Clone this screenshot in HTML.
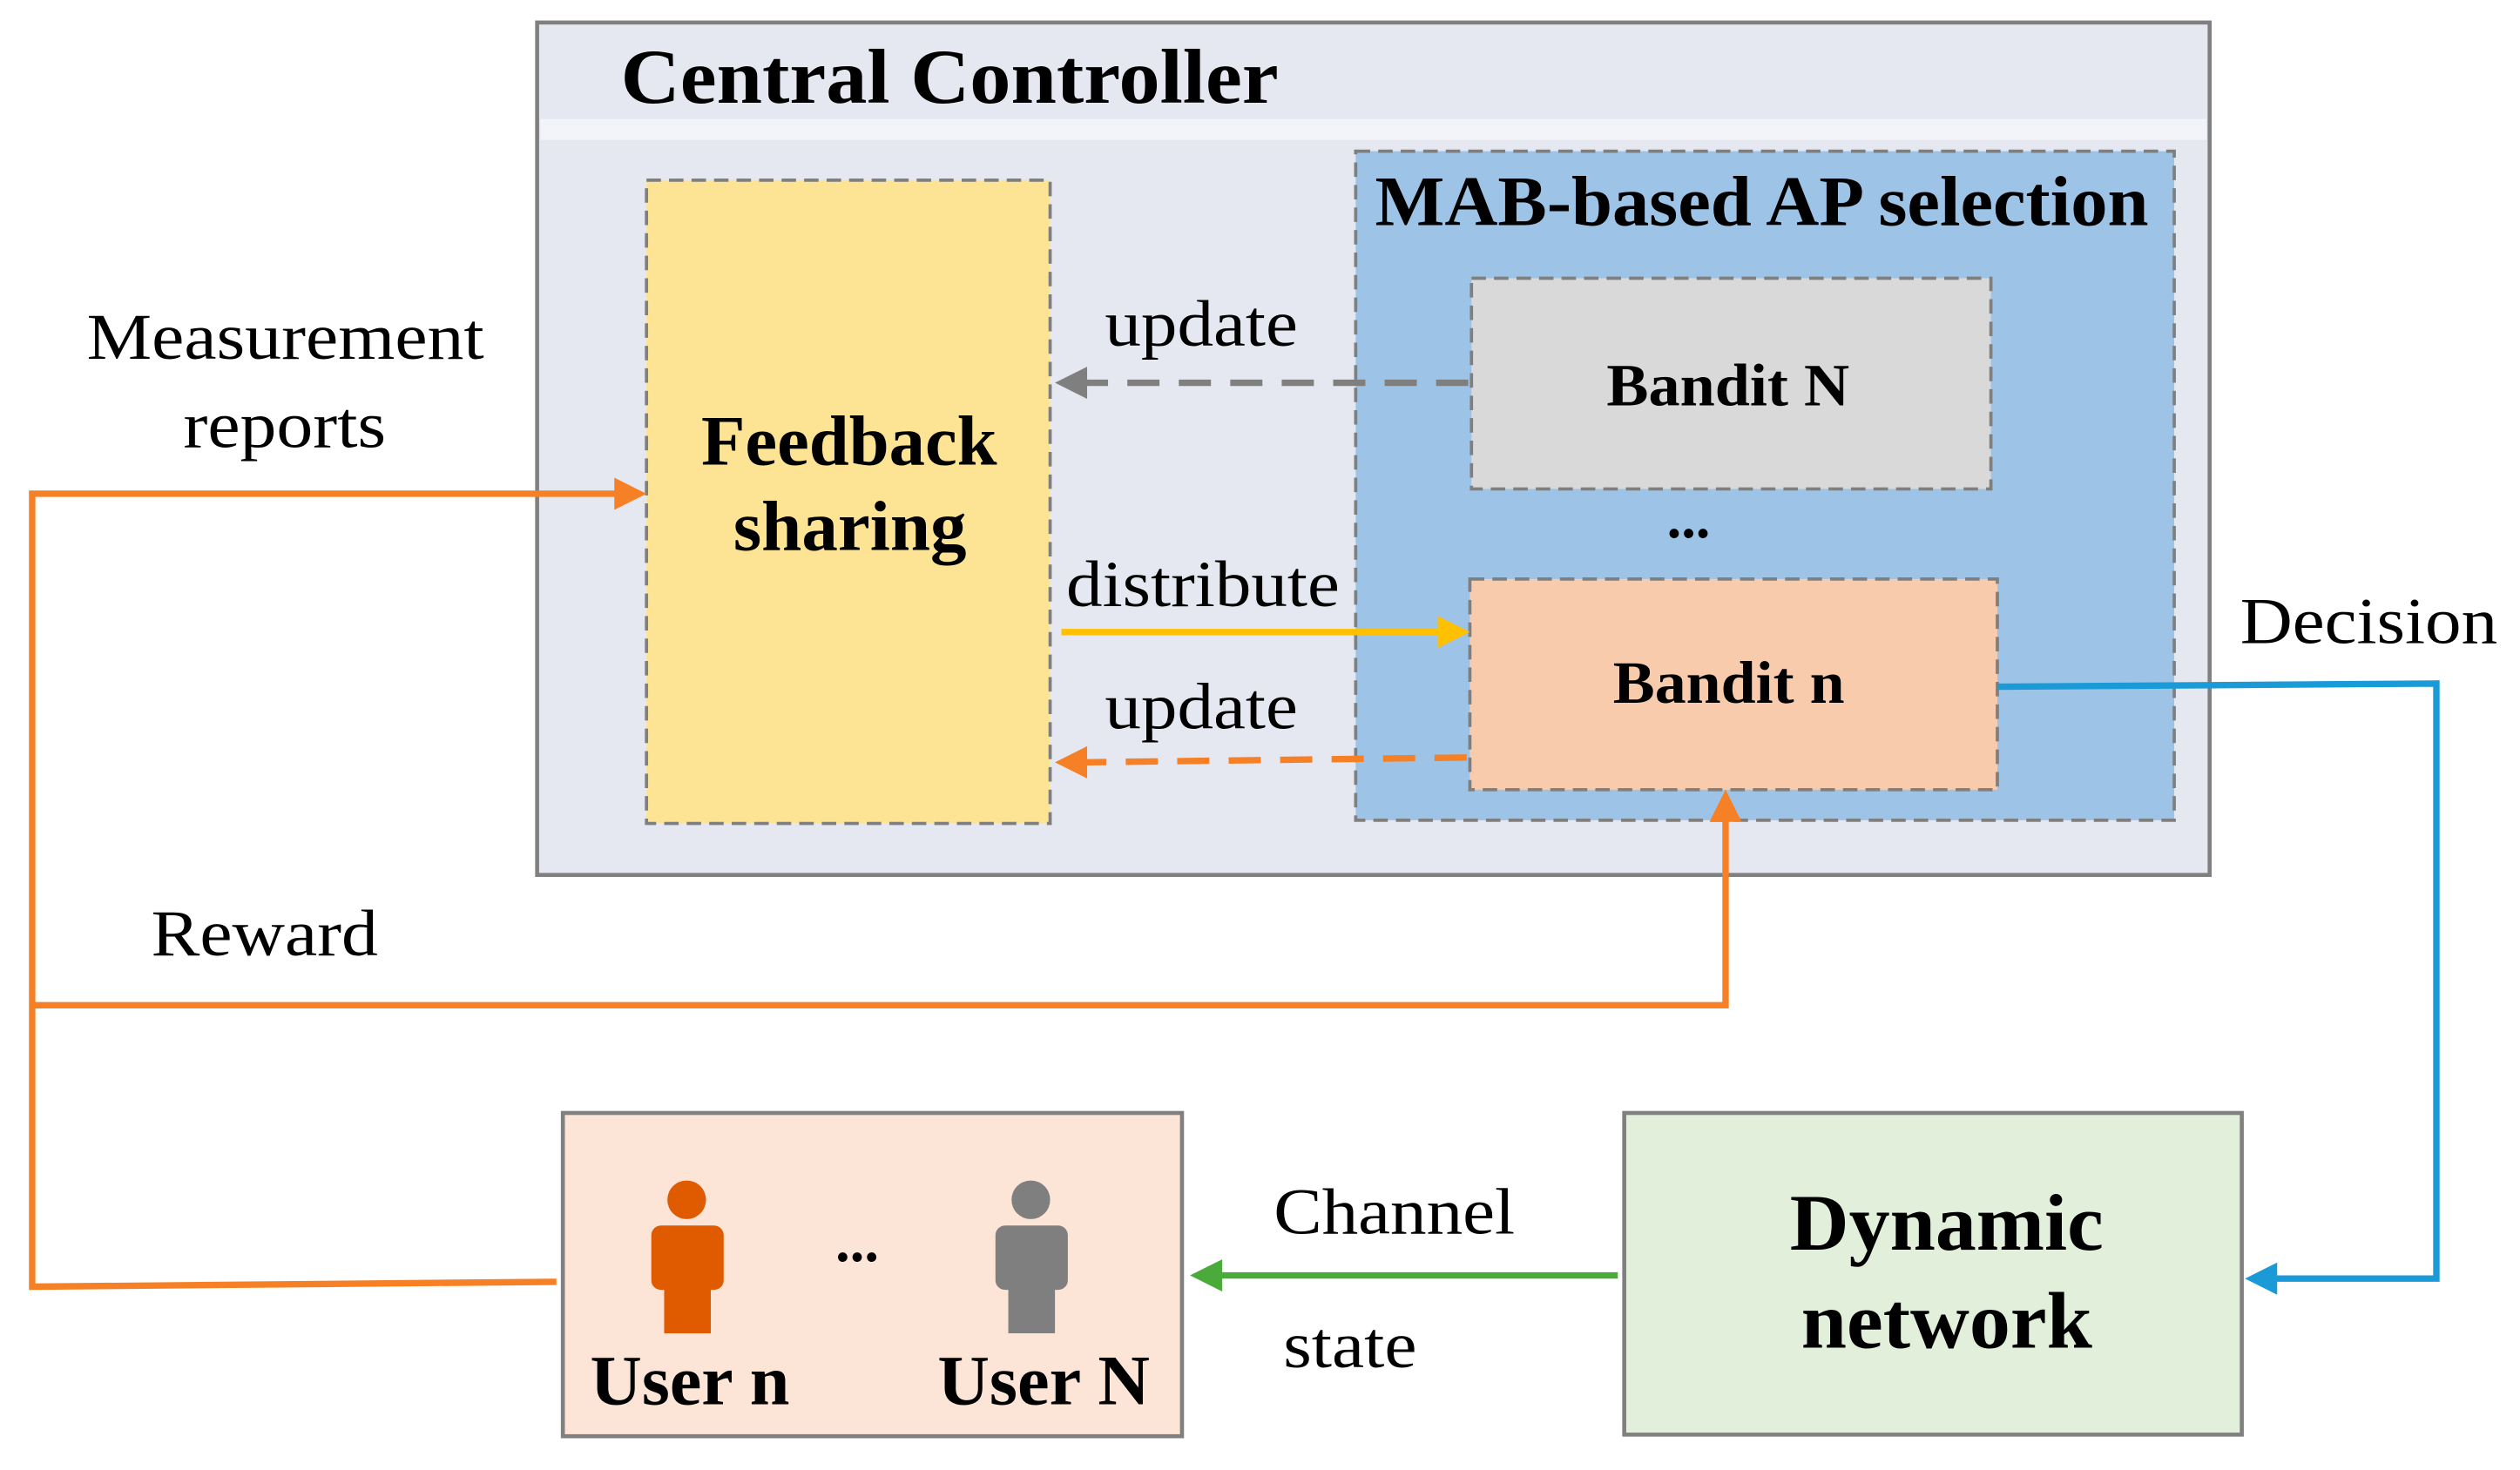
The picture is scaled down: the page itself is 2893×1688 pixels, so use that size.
<!DOCTYPE html>
<html><head><meta charset="utf-8"><style>
html,body{margin:0;padding:0;background:#fff;}
svg{display:block;}
text{font-family:"Liberation Serif",serif;fill:#000;}
.b{font-weight:bold;}
</style></head><body>
<svg width="2893" height="1688" viewBox="0 0 1567 914" preserveAspectRatio="none" xmlns="http://www.w3.org/2000/svg">
<!-- Central controller -->
<rect x="334" y="14" width="1040" height="530" fill="#e6e8f1" stroke="#808080" stroke-width="2.5"/>
<rect x="336" y="74" width="1036" height="13" fill="#f3f4f9"/>
<text x="386" y="64" font-size="48" class="b" textLength="409" lengthAdjust="spacingAndGlyphs">Central Controller</text>
<!-- Feedback -->
<rect x="402" y="112" width="251" height="400" fill="#fde394" stroke="#7f7f7f" stroke-width="2" stroke-dasharray="9,5"/>
<text x="436" y="289" font-size="44" class="b" textLength="184" lengthAdjust="spacingAndGlyphs">Feedback</text>
<text x="456" y="342" font-size="44" class="b" textLength="145" lengthAdjust="spacingAndGlyphs">sharing</text>
<!-- MAB -->
<rect x="843" y="94" width="509" height="416" fill="#9dc3e6" stroke="#7f7f7f" stroke-width="2" stroke-dasharray="9,5"/>
<text x="855" y="140" font-size="44" class="b" textLength="481" lengthAdjust="spacingAndGlyphs">MAB-based AP selection</text>
<rect x="915" y="173" width="323" height="131" fill="#d9d9d9" stroke="#7f7f7f" stroke-width="2" stroke-dasharray="9,5"/>
<text x="999" y="252" font-size="37" class="b" textLength="151" lengthAdjust="spacingAndGlyphs">Bandit N</text>
<text x="1050" y="334" font-size="36" class="b" text-anchor="middle">...</text>
<rect x="914" y="360" width="328" height="131" fill="#f8cbad" stroke="#7f7f7f" stroke-width="2" stroke-dasharray="9,5"/>
<text x="1003" y="437" font-size="37" class="b" textLength="144" lengthAdjust="spacingAndGlyphs">Bandit n</text>
<!-- update grey -->
<line x1="913" y1="238" x2="672" y2="238" stroke="#7f7f7f" stroke-width="4" stroke-dasharray="20,12"/>
<path d="M656,238 L676,228 L676,248 z" fill="#7f7f7f"/>
<text x="687" y="215" font-size="41" textLength="120" lengthAdjust="spacingAndGlyphs">update</text>
<!-- distribute -->
<line x1="660" y1="393" x2="898" y2="393" stroke="#ffc000" stroke-width="4"/>
<path d="M914,393 L894,383 L894,403 z" fill="#ffc000"/>
<text x="663" y="377" font-size="41" textLength="170" lengthAdjust="spacingAndGlyphs">distribute</text>
<!-- update orange -->
<line x1="912" y1="471" x2="672" y2="474" stroke="#f58025" stroke-width="4" stroke-dasharray="20,12"/>
<path d="M656,474 L676,464 L676,484 z" fill="#f58025"/>
<text x="687" y="453" font-size="41" textLength="120" lengthAdjust="spacingAndGlyphs">update</text>
<!-- orange feedback lines -->
<polyline points="346,797 20,800 20,307 386,307" fill="none" stroke="#f58025" stroke-width="4"/>
<path d="M402,307 L382,297 L382,317 z" fill="#f58025"/>
<polyline points="20,625 1073,625 1073,508" fill="none" stroke="#f58025" stroke-width="4"/>
<path d="M1073,491 L1063,511 L1083,511 z" fill="#f58025"/>
<text x="54" y="223" font-size="41" textLength="247" lengthAdjust="spacingAndGlyphs">Measurement</text>
<text x="114" y="278" font-size="41" textLength="126" lengthAdjust="spacingAndGlyphs">reports</text>
<text x="94" y="594" font-size="41" textLength="141" lengthAdjust="spacingAndGlyphs">Reward</text>
<!-- decision -->
<polyline points="1242,427 1515,425 1515,795 1412,795" fill="none" stroke="#1a9ad6" stroke-width="4"/>
<path d="M1396,795 L1416,785 L1416,805 z" fill="#1a9ad6"/>
<text x="1393" y="400" font-size="41" textLength="160" lengthAdjust="spacingAndGlyphs">Decision</text>
<!-- users -->
<rect x="350" y="692" width="385" height="201" fill="#fce4d6" stroke="#808080" stroke-width="2.5"/>
<g fill="#e05a00">
<circle cx="427" cy="746" r="12"/>
<rect x="405" y="762" width="45" height="40" rx="6"/>
<rect x="413" y="795" width="29" height="34"/>
</g>
<g fill="#7f7f7f">
<circle cx="641" cy="746" r="12"/>
<rect x="619" y="762" width="45" height="40" rx="6"/>
<rect x="627" y="795" width="29" height="34"/>
</g>
<text x="533" y="784" font-size="36" class="b" text-anchor="middle">...</text>
<text x="367" y="873" font-size="44" class="b" textLength="124" lengthAdjust="spacingAndGlyphs">User n</text>
<text x="583" y="873" font-size="44" class="b" textLength="132" lengthAdjust="spacingAndGlyphs">User N</text>
<!-- dynamic network -->
<rect x="1010" y="692" width="384" height="200" fill="#e2efda" stroke="#808080" stroke-width="2.5"/>
<text x="1113" y="777" font-size="50" class="b" textLength="195" lengthAdjust="spacingAndGlyphs">Dynamic</text>
<text x="1120" y="838" font-size="50" class="b" textLength="181" lengthAdjust="spacingAndGlyphs">network</text>
<!-- channel state -->
<line x1="1006" y1="793" x2="756" y2="793" stroke="#4aaa3a" stroke-width="4"/>
<path d="M740,793 L760,783 L760,803 z" fill="#4aaa3a"/>
<text x="792" y="767" font-size="41" textLength="150" lengthAdjust="spacingAndGlyphs">Channel</text>
<text x="798" y="850" font-size="41" textLength="83" lengthAdjust="spacingAndGlyphs">state</text>
</svg>
</body></html>
